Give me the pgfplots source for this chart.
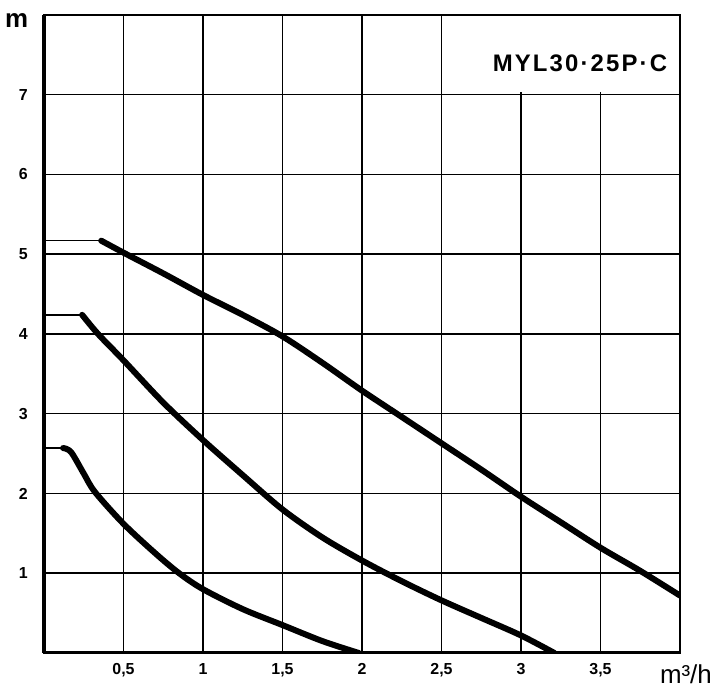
\documentclass[border=0pt]{standalone}
\usepackage{fontspec}
\setmainfont{Liberation Sans}
\newfontfamily\lsfont[LetterSpace=9]{Liberation Sans}
\usepackage{pgfplots}
\pgfplotsset{compat=1.18}
\usetikzlibrary{calc}
\begin{document}
\begin{tikzpicture}
\begin{axis}[
  scale only axis, width=636bp, height=638bp,
  xmin=0, xmax=4, ymin=0, ymax=8,
  xtick={0.5,1,1.5,2,2.5,3,3.5},
  xticklabels={{0,5},1,{1,5},2,{2,5},3,{3,5}},
  ytick={1,2,3,4,5,6,7},
  yticklabels={1,2,3,4,5,6,7},
  major tick length=0pt,
  grid=major,
  major grid style={black, line width=1.5bp},
  axis line style={black, line width=1.5bp},
  xticklabel style={font=\fontsize{16}{16}\selectfont\bfseries, inner sep=0pt, anchor=north, yshift=-10bp},
  yticklabel style={font=\fontsize{16}{16}\selectfont\bfseries, inner sep=0pt, anchor=east, xshift=-16bp},
]
\coordinate (b1) at (axis cs:2.62,7.03);
\coordinate (b2) at (axis cs:3.985,7.985);
\coordinate (lab) at (axis cs:3.92,7.29);
% shut-off thin lines
\addplot[black, line width=1.5bp] coordinates {(0,5.17) (0.37,5.17)};
\addplot[black, line width=1.5bp] coordinates {(0,4.24) (0.25,4.24)};
\addplot[black, line width=1.5bp] coordinates {(0,2.57) (0.14,2.57)};
% top curve
\addplot[black, line width=6bp, line join=round, line cap=round, smooth] coordinates {
 (0.36,5.17) (0.5,5.02) (0.75,4.76) (1.0,4.49) (1.25,4.24) (1.5,3.97) (1.75,3.64) (2.0,3.29) (2.25,2.96) (2.5,2.63) (2.75,2.30) (3.0,1.96) (3.25,1.64) (3.5,1.32) (3.75,1.03) (4.0,0.72)};
% middle curve
\addplot[black, line width=6bp, line join=round, line cap=round, smooth] coordinates {
 (0.24,4.24) (0.34,4.0) (0.5,3.67) (0.75,3.14) (1.0,2.67) (1.25,2.23) (1.5,1.80) (1.75,1.45) (2.0,1.16) (2.25,0.9) (2.5,0.66) (2.75,0.44) (3.0,0.22) (3.21,0.0)};
% bottom curve
\addplot[black, line width=6bp, line join=round, line cap=round, smooth] coordinates {
 (0.12,2.57) (0.17,2.52) (0.25,2.25) (0.32,2.02) (0.5,1.62) (0.7,1.25) (0.85,1.0) (1.0,0.8) (1.25,0.55) (1.5,0.35) (1.75,0.15) (1.98,0.0)};
\end{axis}
\fill[white] (b1) rectangle (b2);
\node[font=\fontsize{24}{24}\lsfont\bfseries, anchor=base east, inner sep=0pt] at (lab) {MYL30·25P·C};
\draw[line width=4bp] (current axis.south west) -- (current axis.north west);
\draw[line width=3bp] (current axis.south west) -- (current axis.south east);
\node[font=\fontsize{26}{26}\selectfont\bfseries, anchor=base west, inner sep=0pt] at ($(current axis.north west)+(-39bp,-13bp)$) {m};
\node[font=\fontsize{26}{26}\selectfont, anchor=base east, inner sep=0pt] at ($(current axis.south east)+(32bp,-31bp)$) {m³/h};
\pgfresetboundingbox
\useasboundingbox ($(current axis.south west)+(-44bp,-38bp)$) rectangle ($(current axis.north east)+(38bp,15bp)$);
\end{tikzpicture}
\end{document}
